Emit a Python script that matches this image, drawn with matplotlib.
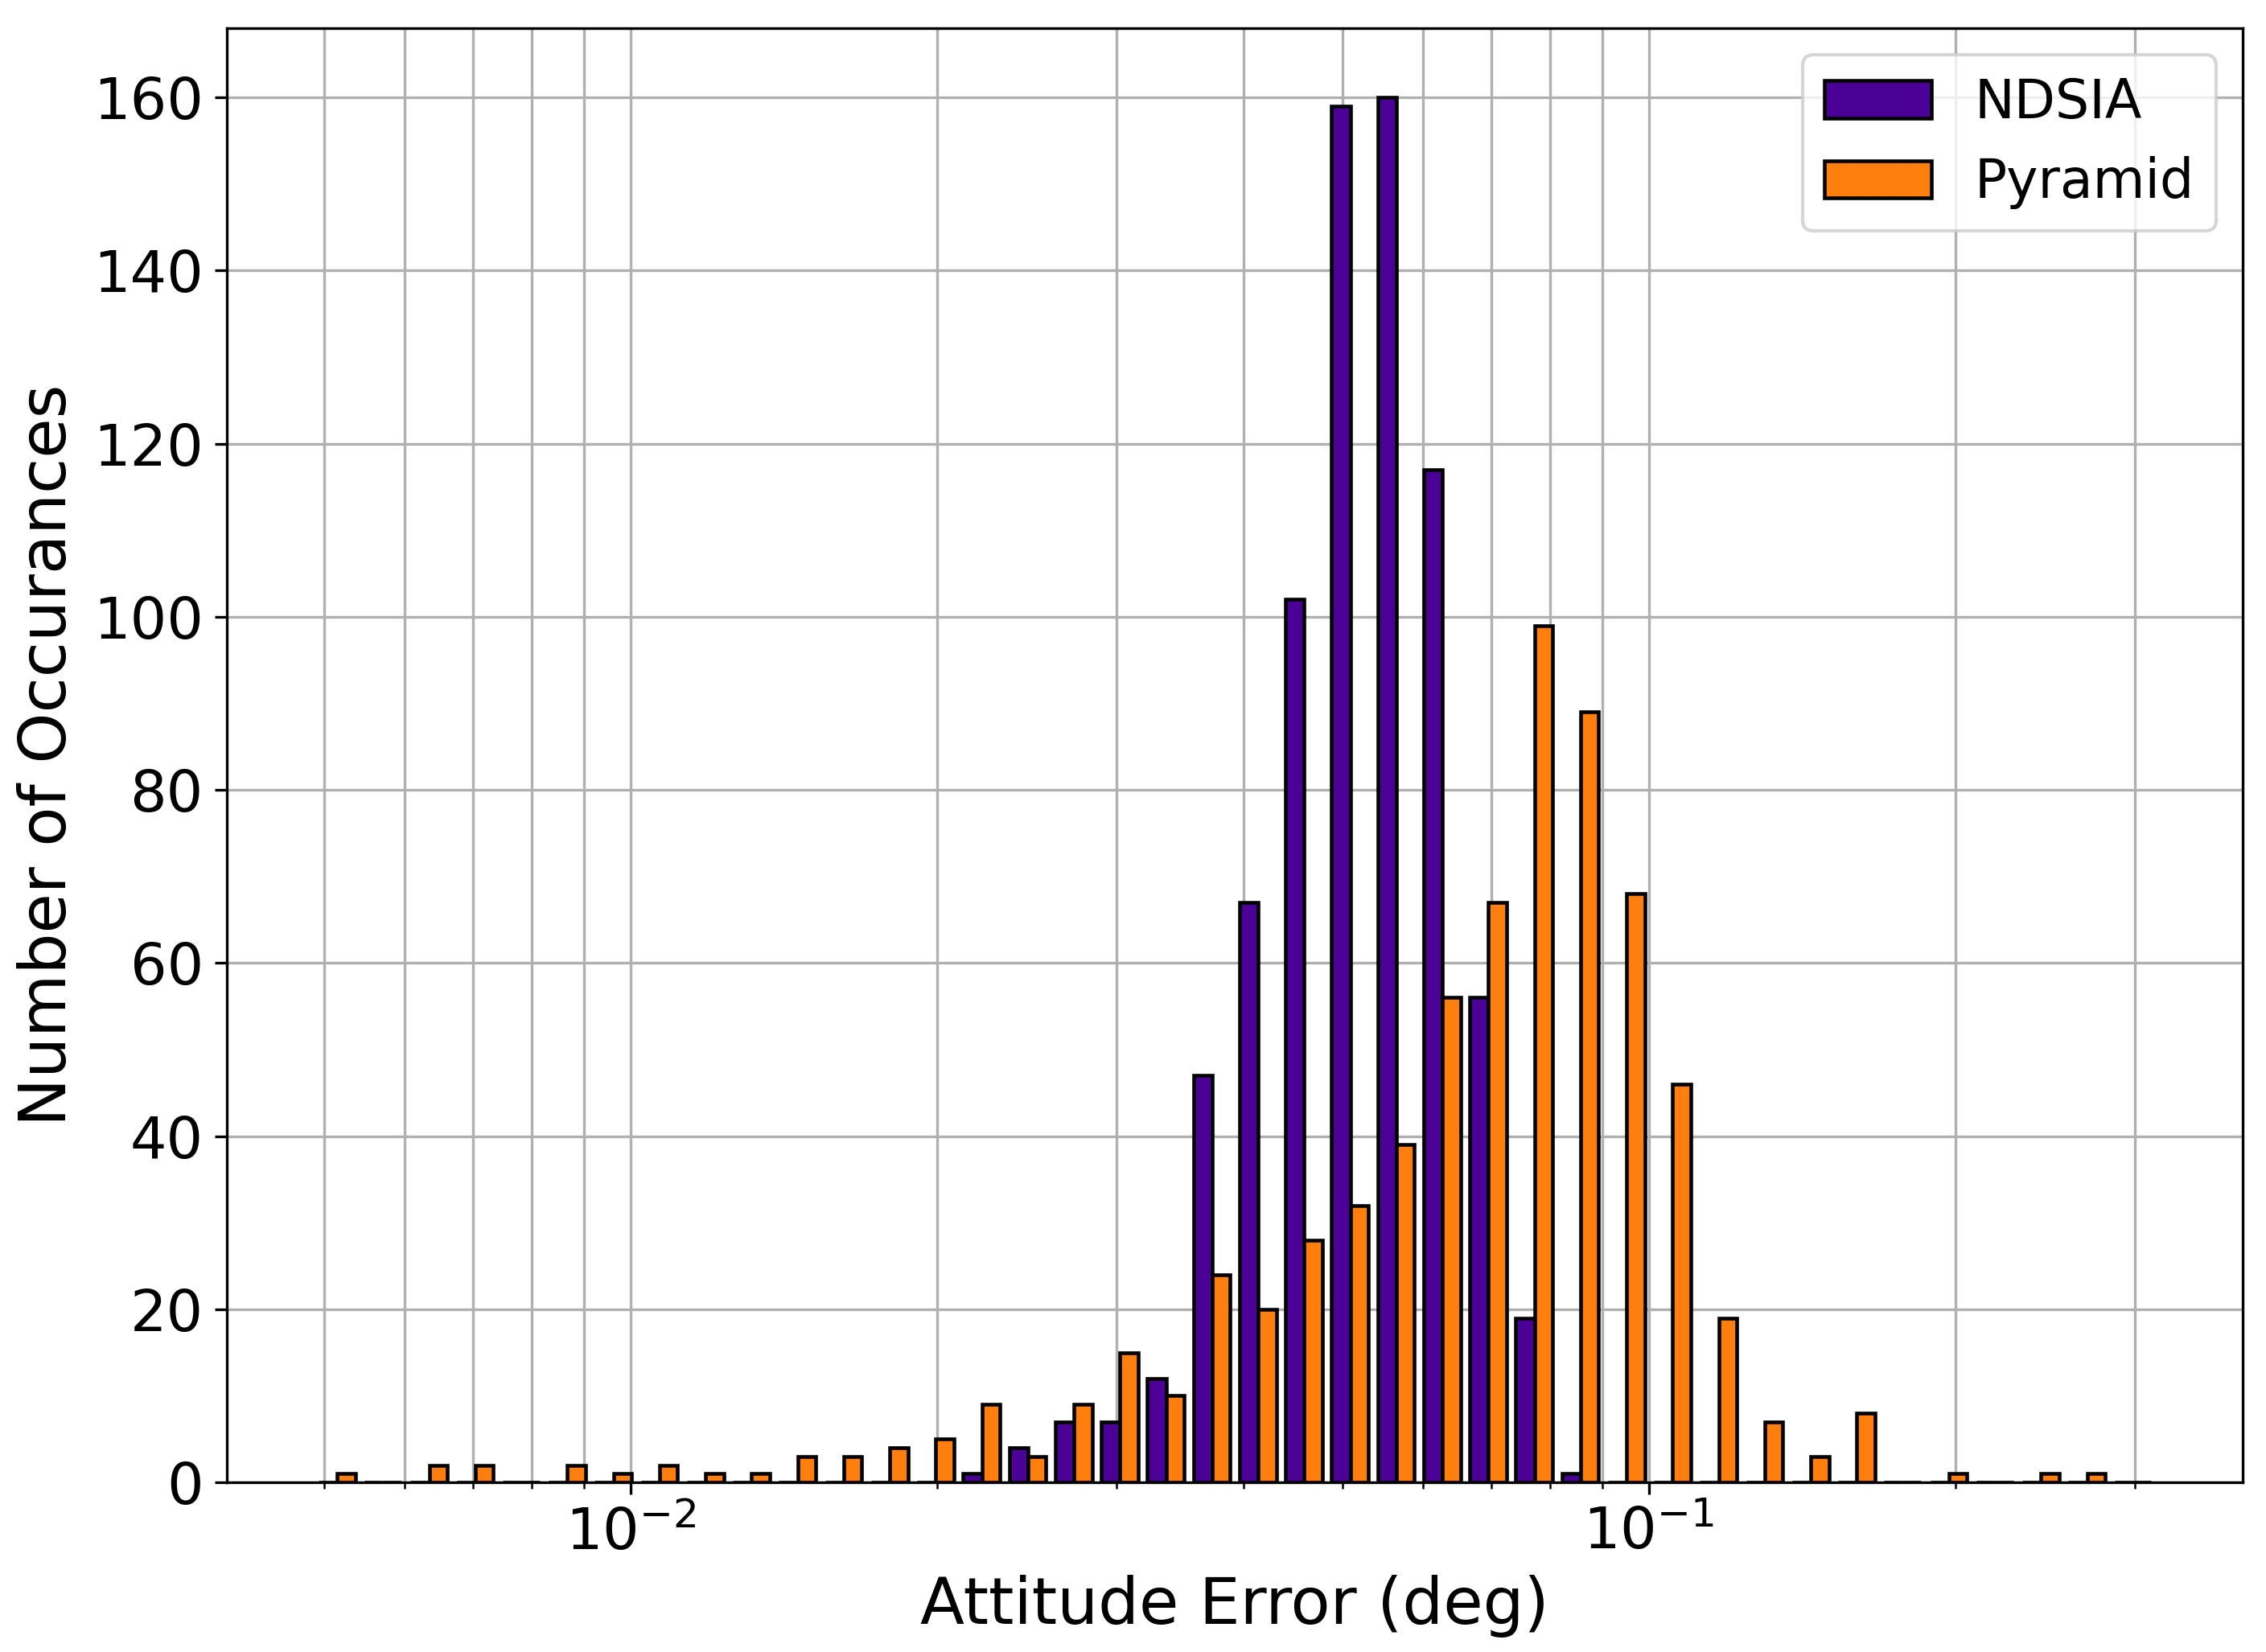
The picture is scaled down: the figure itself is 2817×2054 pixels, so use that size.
import numpy as np
import matplotlib
matplotlib.use("Agg")
import matplotlib.pyplot as plt

# Histogram bins (log spaced, 40 bins)
n_bins = 40
log_lo, log_hi = -2.3113, -0.5025
edges = np.logspace(log_lo, log_hi, n_bins + 1)
centers = np.sqrt(edges[:-1] * edges[1:])

# Counts per bin
ndsia = [0, 0, 0, 0, 0, 0, 0, 0, 0, 0,
         0, 0, 0, 0, 1, 4, 7, 7, 12, 47,
         67, 102, 159, 160, 117, 56, 19, 1, 0, 0,
         0, 0, 0, 0, 0, 0, 0, 0, 0, 0]
pyramid = [1, 0, 2, 2, 0, 2, 1, 2, 1, 1,
           3, 3, 4, 5, 9, 3, 9, 15, 10, 24,
           20, 28, 32, 39, 56, 67, 99, 89, 68, 46,
           19, 7, 3, 8, 0, 1, 0, 1, 1, 0]
labels = ["NDSIA", "Pyramid"]
colors = ["#4b0096", "#ff7f0e"]

fig = plt.figure(figsize=(2817 / 300, 2054 / 300), dpi=300)
ax = fig.add_subplot(111)
fig.subplots_adjust(left=0.1001, right=0.9897, bottom=0.1027, top=0.983)

ax.hist([centers, centers], bins=edges, weights=[ndsia, pyramid],
        color=colors, edgecolor="black", linewidth=1.1, label=labels)
ax.set_xscale("log")
ax.set_xlim(10 ** -2.3965, 10 ** -0.4171)
ax.grid(True, which="both", color="#b0b0b0", linewidth=0.8)
ax.set_axisbelow(True)

ax.tick_params(labelsize=17.2)
ax.set_xlabel("Attitude Error (deg)", fontsize=19.3)
ax.set_ylabel("Number of Occurances", fontsize=19.3)
ax.legend(loc="upper right", fontsize=16)

fig.savefig("out.png", dpi=300)
